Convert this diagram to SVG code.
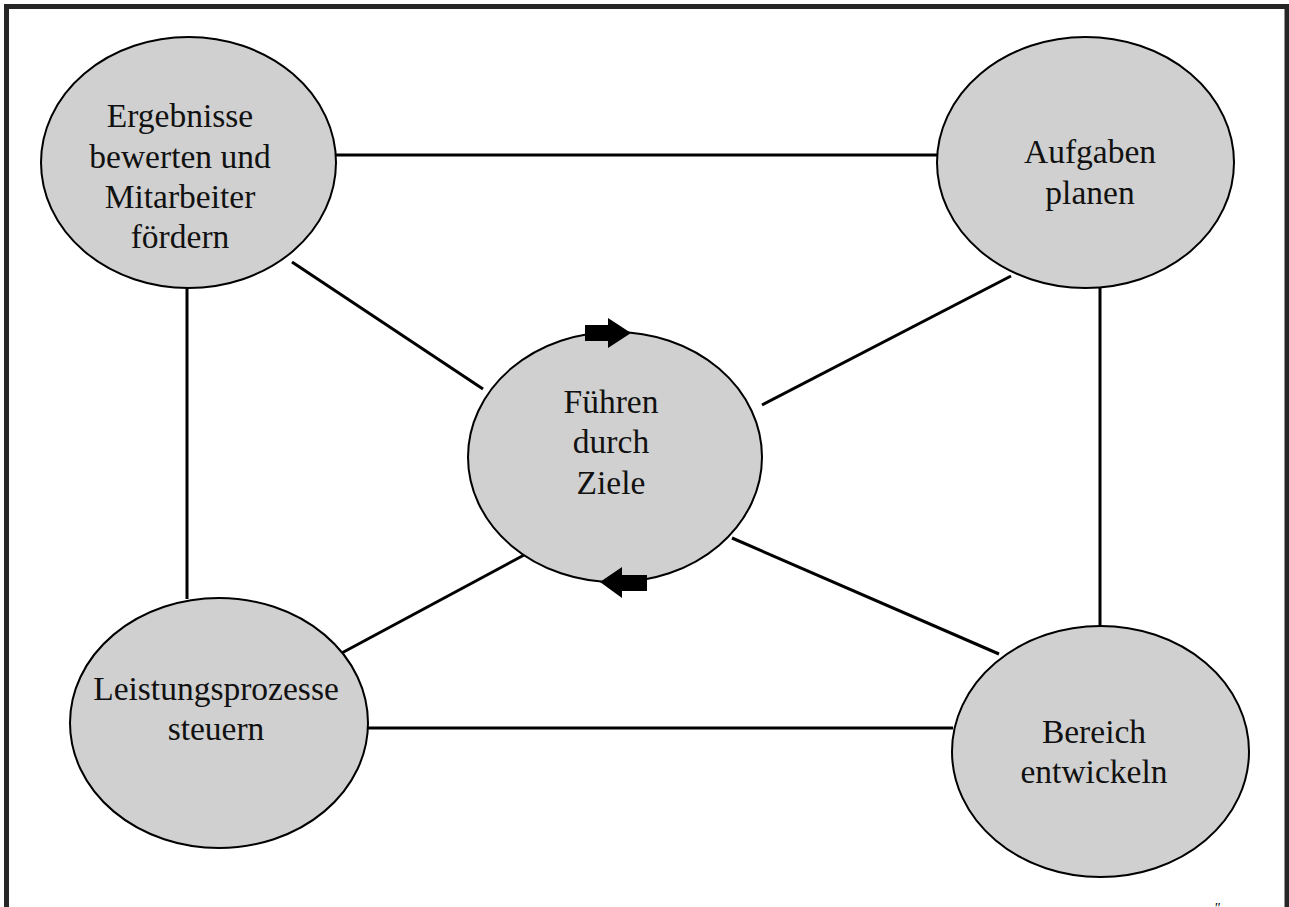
<svg xmlns="http://www.w3.org/2000/svg" width="1289" height="907" viewBox="0 0 1289 907">
  <style>
    .node ellipse { fill: #d0d0d0; stroke: #000; stroke-width: 2; }
    .node text { font-family: "Liberation Serif", "Times New Roman", serif; font-size: 33.5px; fill: #111; text-anchor: middle; }
    .conn line { stroke: #000; stroke-width: 3; }
    .arrow { fill: #000; }
  </style>
  <rect x="0" y="0" width="1289" height="907" fill="#fff"/>
  <path d="M6.5,907 V6.5 H1287 V907" fill="none" stroke="#262626" stroke-width="5"/>
  <g id="connectors" class="conn">
    <line x1="336" y1="155" x2="938" y2="155"/>
    <line x1="292" y1="262" x2="483" y2="389"/>
    <line x1="187" y1="287" x2="187" y2="599"/>
    <line x1="1011" y1="276" x2="762" y2="405"/>
    <line x1="1100" y1="288" x2="1100" y2="627"/>
    <line x1="732" y1="538" x2="999" y2="654"/>
    <line x1="526" y1="554" x2="338" y2="655"/>
    <line x1="367" y1="728" x2="953" y2="728"/>
  </g>
  <g id="node-ergebnisse" class="node">
    <ellipse cx="188.5" cy="162.5" rx="147.5" ry="125.5"/>
    <text x="180" y="127">Ergebnisse</text>
    <text x="180" y="168">bewerten und</text>
    <text x="180" y="208">Mitarbeiter</text>
    <text x="180" y="248">fördern</text>
  </g>
  <g id="node-aufgaben" class="node">
    <ellipse cx="1085.5" cy="162.5" rx="148.5" ry="125.5"/>
    <text x="1090" y="163">Aufgaben</text>
    <text x="1090" y="204">planen</text>
  </g>
  <g id="node-fuehren" class="node">
    <ellipse cx="615" cy="457" rx="147" ry="125"/>
    <text x="611" y="413">Führen</text>
    <text x="611" y="453">durch</text>
    <text x="611" y="494">Ziele</text>
    <path class="arrow" d="M585,325 H608 V318 L631,333 L608,348 V341 H585 Z"/>
    <path class="arrow" d="M647,575 H622 V567 L600,582 L622,598 V591 H647 Z"/>
  </g>
  <g id="node-leistung" class="node">
    <ellipse cx="219" cy="723" rx="149" ry="125"/>
    <text x="216" y="700">Leistungsprozesse</text>
    <text x="216" y="740">steuern</text>
  </g>
  <g id="node-bereich" class="node">
    <ellipse cx="1100.5" cy="751.5" rx="148.5" ry="125.5"/>
    <text x="1094" y="743">Bereich</text>
    <text x="1094" y="783">entwickeln</text>
  </g>
  <text x="1214" y="913" font-family="Liberation Serif, serif" font-style="italic" font-size="14" fill="#000">"</text>
</svg>
